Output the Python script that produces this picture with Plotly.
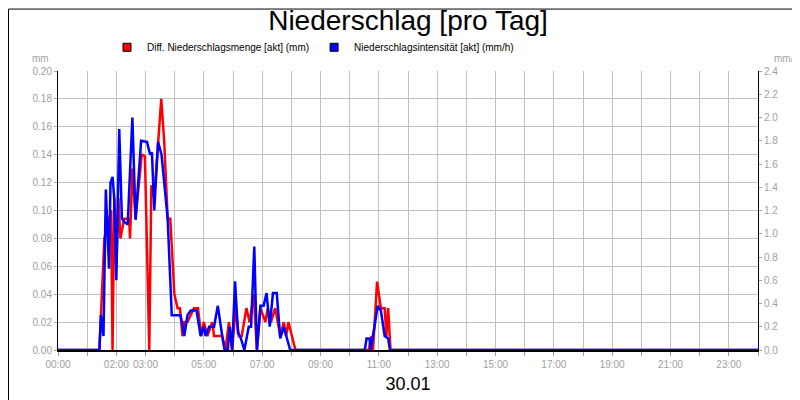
import plotly.graph_objects as go

# hours of day / precipitation amount (mm)
red_t = [0, 1.42, 1.59, 1.82, 1.87, 1.93, 2.0, 2.07, 2.14, 2.27, 2.44, 2.47, 2.55, 2.66, 2.87, 2.98, 3.13, 3.2, 3.3,
         3.54, 3.64, 3.76, 3.85, 3.99, 4.1, 4.18, 4.27, 4.33, 4.44, 4.66, 4.8, 4.91, 5.0, 5.12, 5.29, 5.35, 5.63,
         5.74, 5.86, 5.97, 6.09, 6.2, 6.3, 6.46, 6.57, 6.71, 6.82, 6.94, 7.11, 7.19, 7.3, 7.45, 7.62, 7.74, 7.82,
         7.9, 8.02, 8.14, 10.65, 10.75, 10.8, 10.94, 11.07, 11.2, 11.26, 11.32, 11.4, 24]
red_v = [0, 0, 0.08, 0.1, 0, 0.109, 0.059, 0.109, 0.08, 0.094, 0.094, 0.08, 0.13, 0.094, 0.14, 0.139, 0, 0.118, 0.109,
         0.18, 0.15, 0.094, 0.094, 0.04, 0.03, 0.03, 0.01, 0.02, 0.02, 0.03, 0.03, 0.01, 0.02, 0.01, 0.02, 0.01, 0.01,
         0, 0.02, 0, 0.03, 0.01, 0.01, 0.03, 0.02, 0.04, 0, 0.03, 0.02, 0.03, 0.02, 0.03, 0.01, 0.02, 0.01,
         0.02, 0.01, 0, 0, 0.01, 0, 0.049, 0.03, 0.03, 0.01, 0.03, 0, 0]

# hours of day / intensity (mm/h)
blue_t = [0, 1.42, 1.47, 1.56, 1.64, 1.75, 1.8, 1.87, 1.93, 2.0, 2.1, 2.19, 2.28, 2.39, 2.55, 2.66, 2.85, 3.05, 3.16,
          3.22, 3.3, 3.43, 3.55, 3.76, 3.9, 4.1, 4.2, 4.33, 4.44, 4.55, 4.75, 4.89, 5.0, 5.06, 5.18, 5.35, 5.48,
          5.63, 5.71, 5.82, 5.89, 5.97, 6.07, 6.17, 6.27, 6.39, 6.54, 6.62, 6.73, 6.82, 6.94, 7.05, 7.15, 7.26, 7.37,
          7.5, 7.62, 7.74, 7.85, 7.96, 10.52, 10.58, 10.68, 10.72, 10.85, 10.96, 11.07, 11.2, 11.32, 11.38, 24]
blue_v = [0, 0, 0.3, 0.12, 1.38, 0.7, 1.44, 1.49, 1.3, 0.6, 1.9, 1.13, 1.1, 1.08, 2.0, 1.12, 1.8, 1.79, 1.68,
          1.7, 1.2, 1.79, 1.68, 1.13, 0.3, 0.3, 0.3, 0.12, 0.3, 0.34, 0.34, 0.12, 0.2, 0.12, 0.2, 0.2, 0.38,
          0.12, 0, 0, 0.2, 0, 0.59, 0.15, 0.1, 0, 0.2, 0.2, 0.89, 0, 0.38, 0.38, 0.49, 0.2, 0.49,
          0.49, 0.1, 0.2, 0.1, 0, 0, 0.1, 0.1, 0, 0.2, 0.38, 0.34, 0.12, 0.1, 0, 0]

hour_labels = {0: "00:00", 2: "02:00", 3: "03:00", 5: "05:00", 7: "07:00", 9: "09:00", 11: "11:00",
               13: "13:00", 15: "15:00", 17: "17:00", 19: "19:00", 21: "21:00", 23: "23:00"}

font = "Liberation Sans, Arial, sans-serif"
grey = "#a0a0a0"

fig = go.Figure()
fig.add_trace(go.Scatter(x=blue_t, y=blue_v, yaxis="y2", mode="lines", showlegend=False,
                         line=dict(color="#0000ff", width=2.5)))
fig.add_trace(go.Scatter(x=red_t, y=red_v, mode="lines", showlegend=False,
                         line=dict(color="#ff0000", width=2.5)))
# legend entries with square symbols
fig.add_trace(go.Scatter(x=[None], y=[None], mode="markers", name="Diff. Niederschlagsmenge [akt] (mm)",
                         marker=dict(symbol="square", size=8, color="#ff0000", line=dict(color="black", width=1))))
fig.add_trace(go.Scatter(x=[None], y=[None], mode="markers", name="Niederschlagsintensität [akt] (mm/h)",
                         marker=dict(symbol="square", size=8, color="#0000ff", line=dict(color="black", width=1))))

fig.update_layout(
    width=800, height=400,
    margin=dict(l=50, r=50, t=63, b=58),
    paper_bgcolor="white", plot_bgcolor="white",
    font=dict(family=font, size=10, color=grey),
    title=dict(text="Niederschlag [pro Tag]", x=0.5, xanchor="center", y=0.995, yanchor="top",
               font=dict(size=28, color="black")),
    showlegend=True,
    legend=dict(orientation="h", x=0.07, y=1.085, xanchor="left", yanchor="middle",
                font=dict(size=10, color="black"), itemwidth=30, bgcolor="rgba(0,0,0,0)"),
    xaxis=dict(range=[0, 24], tickvals=list(range(25)), tickangle=0,
               ticktext=[hour_labels.get(h, "") for h in range(25)],
               showgrid=True, gridcolor="#c0c0c0", ticks="outside", ticklen=4, tickcolor=grey,
               showline=True, linecolor="black", linewidth=2, zeroline=False,
               title=dict(text="30.01", font=dict(size=18, color="black"), standoff=8)),
    yaxis=dict(range=[0, 0.2], dtick=0.02, tickformat=".2f", showgrid=True, gridcolor="#c0c0c0",
               showline=True, linecolor="black", linewidth=1, ticks="outside", ticklen=3, tickcolor=grey,
               zeroline=False),
    yaxis2=dict(range=[0, 2.4], dtick=0.2, tickformat=".1f", overlaying="y", side="right", showgrid=False,
                showline=True, linecolor="black", linewidth=1, ticks="outside", ticklen=3, tickcolor=grey,
                zeroline=False),
    shapes=[dict(type="rect", xref="paper", yref="paper", x0=-0.0707, x1=1.0707, y0=-0.206, y1=1.222,
                 line=dict(color="black", width=1))],
    annotations=[
        dict(text="mm", xref="paper", yref="paper", x=-0.01, y=1.07, xanchor="right", showarrow=False,
             font=dict(size=10, color=grey)),
        dict(text="mm/h", xref="paper", yref="paper", x=1.02, y=1.07, xanchor="left", showarrow=False,
             font=dict(size=10, color=grey)),
    ],
)

fig.write_html("out.html")
